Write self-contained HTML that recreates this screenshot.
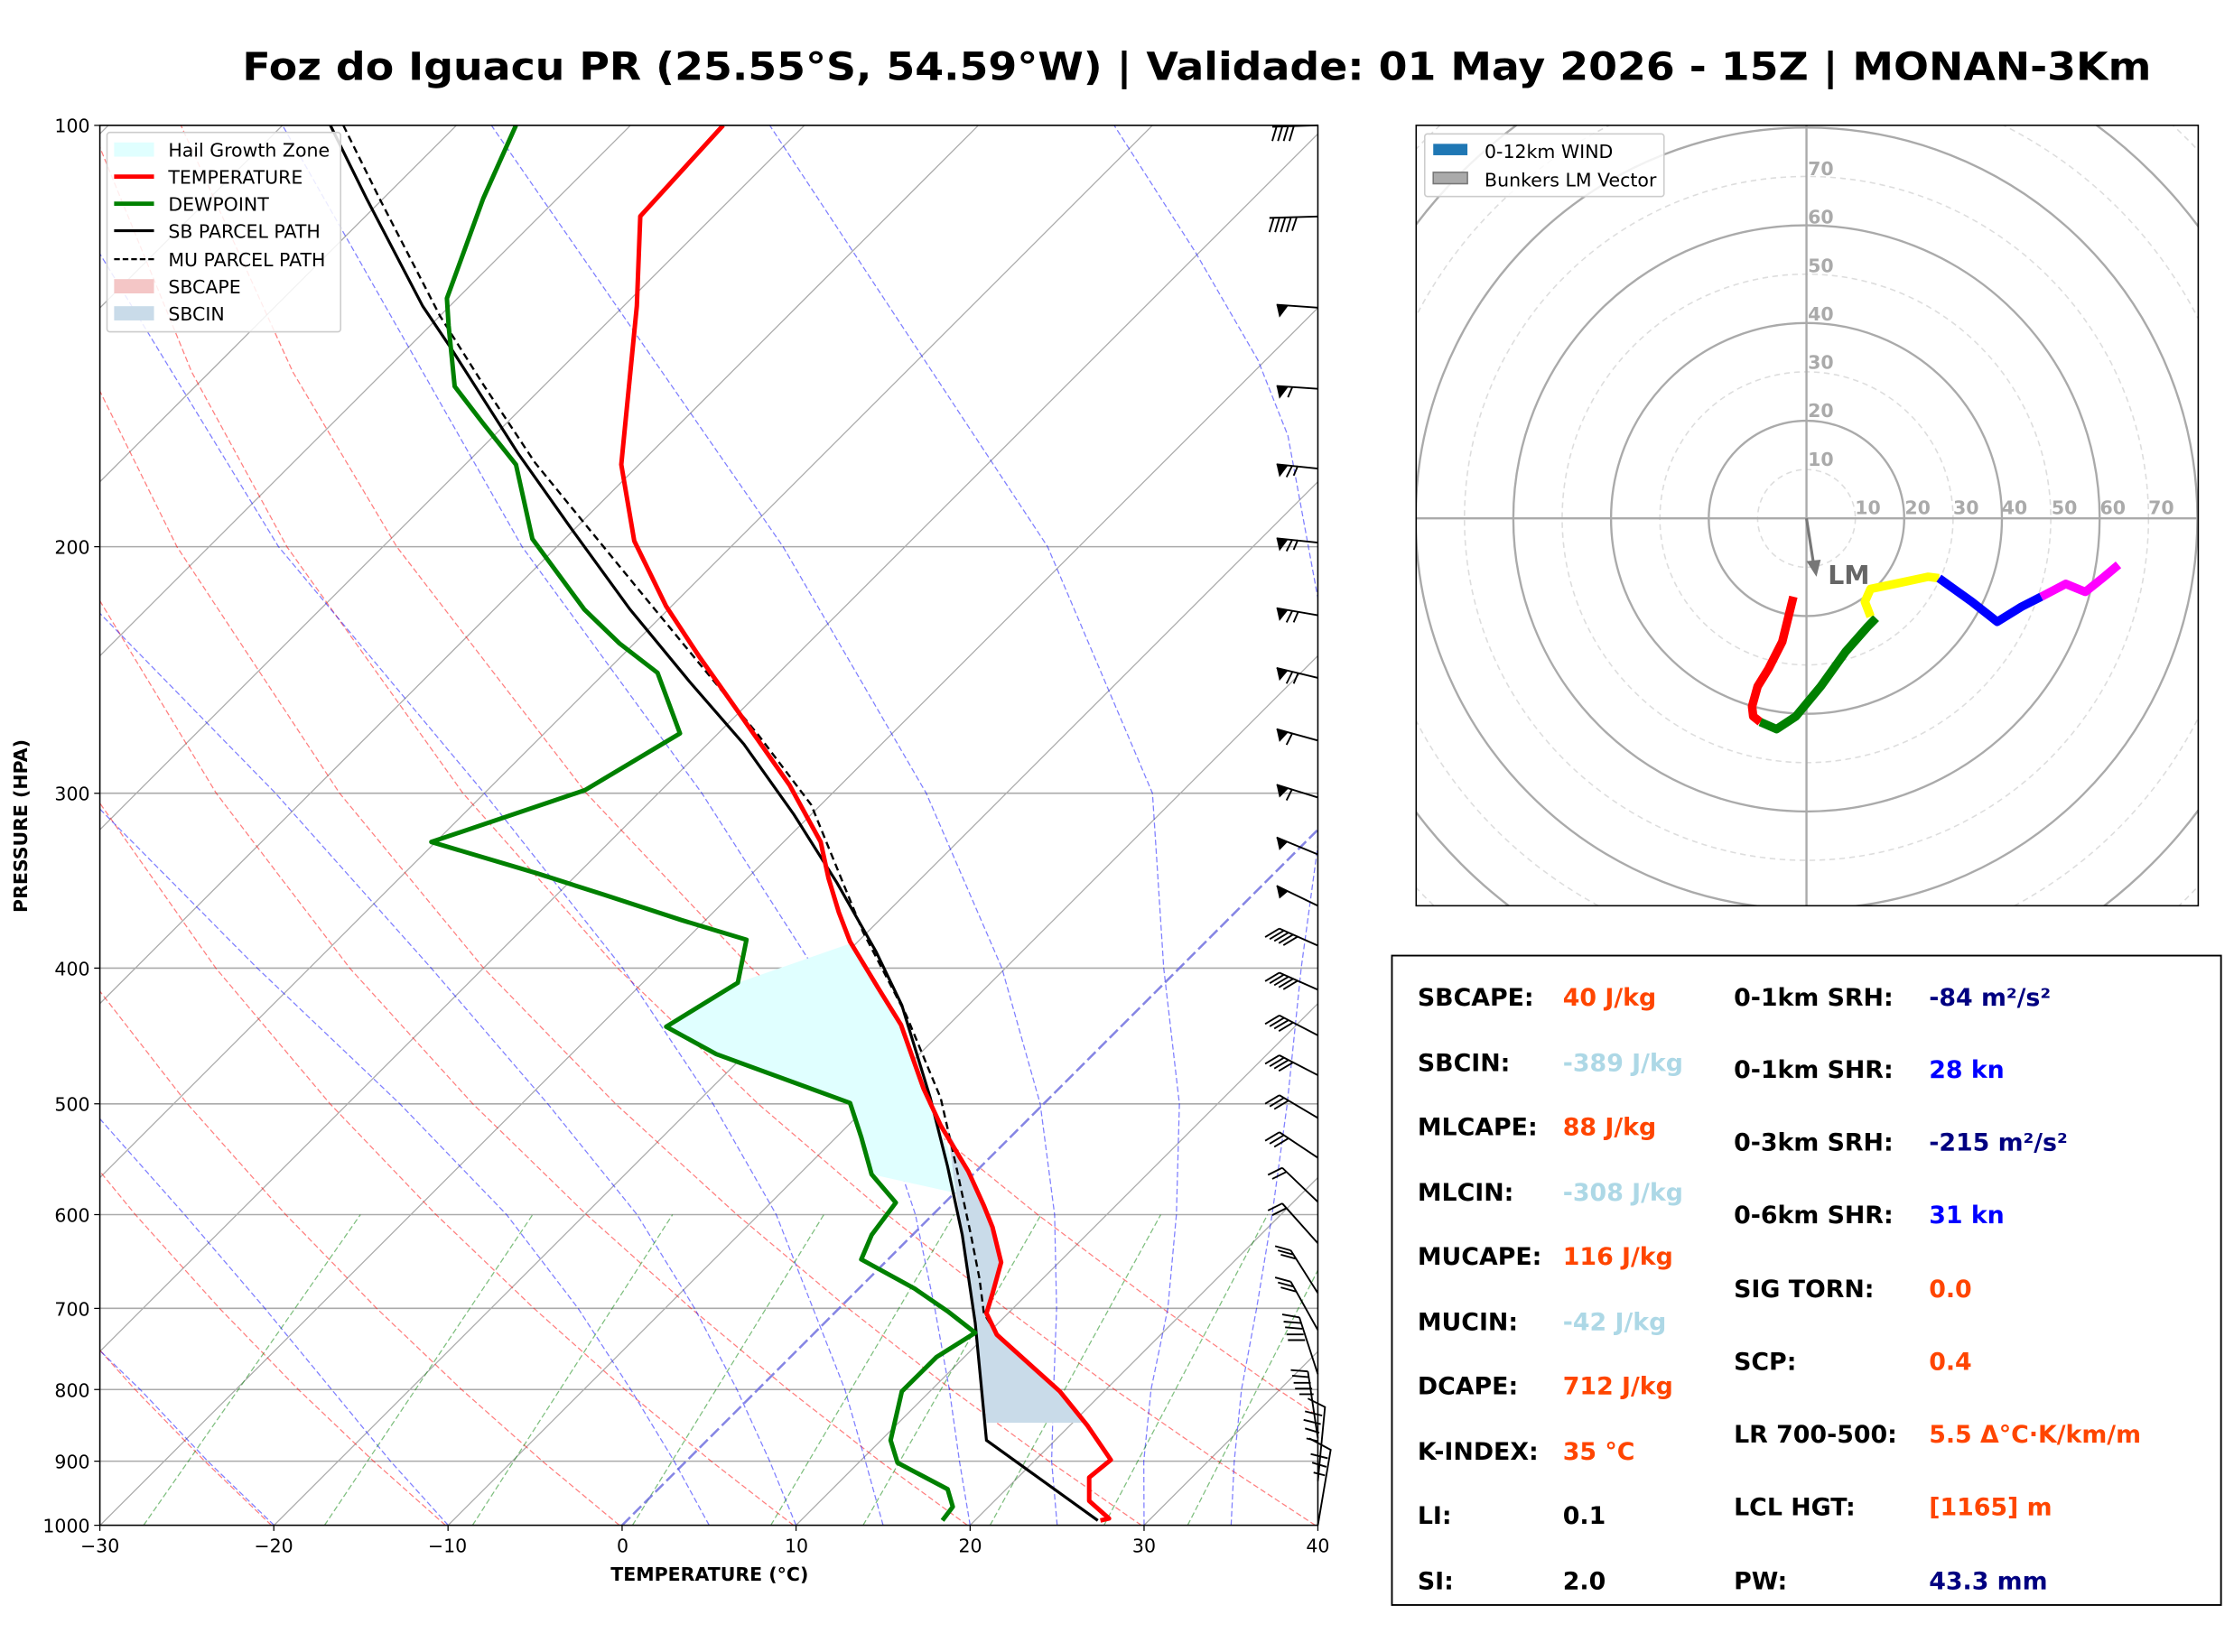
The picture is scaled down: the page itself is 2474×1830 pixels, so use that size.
<!DOCTYPE html>
<html><head><meta charset="utf-8">
<style>
html,body{margin:0;padding:0;background:#fff;}
svg{display:block;}
text{font-family:"DejaVu Sans","Liberation Sans",sans-serif;}
</style></head>
<body>
<svg width="2474" height="1830" viewBox="0 0 1568 1160" xmlns="http://www.w3.org/2000/svg">
<defs>
<clipPath id="cp"><rect x="70" y="88" width="855" height="983"/></clipPath>
<clipPath id="ch"><rect x="994" y="88" width="549" height="548"/></clipPath>
</defs>
<rect width="1568" height="1160" fill="#fff"/>
<text x="840" y="56" text-anchor="middle" font-size="27" font-weight="bold" textLength="1340" lengthAdjust="spacingAndGlyphs">Foz do Iguacu PR (25.55°S, 54.59°W) | Validade: 01 May 2026 - 15Z | MONAN-3Km</text>

<g clip-path="url(#cp)">
<g stroke="#aaa" stroke-width="1">
<line x1="70" x2="925" y1="88" y2="88"/><line x1="70" x2="925" y1="383.9" y2="383.9"/><line x1="70" x2="925" y1="557" y2="557"/><line x1="70" x2="925" y1="679.8" y2="679.8"/><line x1="70" x2="925" y1="775.1" y2="775.1"/><line x1="70" x2="925" y1="852.9" y2="852.9"/><line x1="70" x2="925" y1="918.7" y2="918.7"/><line x1="70" x2="925" y1="975.7" y2="975.7"/><line x1="70" x2="925" y1="1026" y2="1026"/>
</g>
<g stroke="#aaa" stroke-width="0.8">
<line x1="-1029.1" y1="1071" x2="-46.1" y2="88"/><line x1="-907" y1="1071" x2="76" y2="88"/><line x1="-784.8" y1="1071" x2="198.2" y2="88"/><line x1="-662.7" y1="1071" x2="320.3" y2="88"/><line x1="-540.5" y1="1071" x2="442.5" y2="88"/><line x1="-418.4" y1="1071" x2="564.6" y2="88"/><line x1="-296.3" y1="1071" x2="686.7" y2="88"/><line x1="-174.1" y1="1071" x2="808.9" y2="88"/><line x1="-52" y1="1071" x2="931" y2="88"/><line x1="70.2" y1="1071" x2="1053.2" y2="88"/><line x1="192.3" y1="1071" x2="1175.3" y2="88"/><line x1="314.5" y1="1071" x2="1297.5" y2="88"/><line x1="558.7" y1="1071" x2="1541.7" y2="88"/><line x1="680.9" y1="1071" x2="1663.9" y2="88"/><line x1="803" y1="1071" x2="1786" y2="88"/>
</g>
<g fill="none" stroke="#ff0000" stroke-opacity="0.5" stroke-width="0.8" stroke-dasharray="4,2">
<polyline points="68.3,1071 25.1,1026 -19.9,975.7"/>
<polyline points="190.4,1071 143.6,1026 94.7,975.7 43.7,918.7 -10.7,852.9"/>
<polyline points="312.6,1071 262.1,1026 209.3,975.7 154,918.7 94.9,852.9 31.2,775.1"/>
<polyline points="434.7,1071 380.6,1026 323.9,975.7 264.3,918.7 200.5,852.9 131.4,775.1 57.4,679.8"/>
<polyline points="556.9,1071 499.1,1026 438.5,975.7 374.7,918.7 306,852.9 231.6,775.1 151.4,679.8 65.1,557"/>
<polyline points="679,1071 617.6,1026 553.1,975.7 485,918.7 411.6,852.9 331.8,775.1 245.4,679.8 151.7,557 47,383.9"/>
<polyline points="801.1,1071 736.2,1026 667.7,975.7 595.3,918.7 517.2,852.9 432,775.1 339.4,679.8 238.3,557 124.1,383.9 63.3,261.1"/>
<polyline points="923.2,1071 854.7,1026 782.3,975.7 705.6,918.7 622.7,852.9 532.1,775.1 433.4,679.8 324.9,557 201.3,383.9 134.4,261.1 63.7,88"/>
<polyline points="1045,1071 973.2,1026 896.9,975.7 815.9,918.7 728.3,852.9 632.3,775.1 527.4,679.8 411.5,557 278.4,383.9 205.4,261.1 126.9,88"/>
</g>
<g fill="none" stroke="#0000ff" stroke-opacity="0.5" stroke-width="0.8" stroke-dasharray="4,2">
<polyline points="864.1,1071 866.3,1026 871.4,975.7 882,918.7 892.9,852.9 903.5,775.1 913.3,679.8 930,557 925,420 904,306 883,253 839,177 782,88"/>
<polyline points="803,1071 802.8,1026 807.9,975.7 819.7,918.7 825.7,852.9 827.8,775.1 816.8,679.8 808.9,557 735.3,383.9 540.2,88"/>
<polyline points="742,1071 738.1,1026 739.5,975.7 741.6,918.7 740.2,852.9 730.1,775.1 703.2,679.8 650.1,557 549.6,383.9 344.8,88"/>
<polyline points="680.9,1071 673.4,1026 666.3,975.7 656.1,918.7 642.5,852.9 616.5,775.1 571.3,679.8 492.6,557 366.4,383.9 198.2,88"/>
<polyline points="619.8,1071 607.4,1026 593,975.7 570.6,918.7 544.8,852.9 500.4,775.1 437,679.8 339.9,557 195.4,383.9 15,88"/>
<polyline points="558.7,1071 540.2,1026 517.2,975.7 487.5,918.7 447.1,852.9 384.4,775.1 302.6,679.8 193.3,557 24.4,383.9"/>
<polyline points="497.7,1071 473.1,1026 442.7,975.7 405.7,918.7 355.5,852.9 280.6,775.1 180.5,679.8 59,557"/>
<polyline points="314.5,1071 274,1026 232.7,975.7 185.8,918.7 129.5,852.9 60.7,775.1"/>
<polyline points="192.3,1071 145.7,1026 98.3,975.7 39.3,918.7"/>
</g>
<g stroke="#008000" stroke-opacity="0.5" stroke-width="0.8" stroke-dasharray="4,2">
<line x1="100.7" y1="1071" x2="252.9" y2="852.9"/><line x1="227.7" y1="1071" x2="373.8" y2="852.9"/><line x1="331.6" y1="1071" x2="472" y2="852.9"/><line x1="443.9" y1="1071" x2="578.2" y2="852.9"/><line x1="541" y1="1071" x2="669.7" y2="852.9"/><line x1="605.8" y1="1071" x2="730.7" y2="852.9"/><line x1="694.9" y1="1071" x2="814.7" y2="852.9"/><line x1="774.9" y1="1071" x2="889.7" y2="852.9"/><line x1="833.6" y1="1071" x2="944.9" y2="852.9"/>
</g>
<line x1="436.6" y1="1071" x2="1419.6" y2="88" stroke="#6666dd" stroke-width="1.6" stroke-dasharray="8,3" stroke-opacity="0.8"/>

<g transform="translate(-0.3,63.97) scale(0.606,0.6865)">
<polygon fill="#e0ffff" points="855,912 985,872 1022,920 1045,955 1075,1035 1098,1080 1112,1128 1010,1108 998,1070 985,1035 830,985 772,957"/>
<polygon fill="#c9dbe9" points="1098,1062 1122,1105 1140,1140 1150,1162 1160,1198 1150,1230 1143,1250 1155,1272 1228,1330 1258,1362 1143,1362 1130,1260 1115,1170 1105,1110"/>
<polyline fill="none" stroke="#000" stroke-width="2.4" stroke-dasharray="8,5" vector-effect="non-scaling-stroke" points="398,35 440,110 510,230 560,300 620,380 680,445 742,512 810,585 880,660 940,730 1000,860 1050,945 1090,1030 1108,1100 1125,1170 1135,1215 1140,1250 1155,1272"/>
<polyline fill="none" stroke="#000" stroke-width="3.2" vector-effect="non-scaling-stroke" points="383,35 425,110 490,220 522,262 600,370 660,445 730,530 800,605 862,668 920,740 970,810 1015,880 1045,935 1078,1030 1098,1100 1115,1170 1130,1260 1143,1380 1272,1462"/>
<polyline fill="none" stroke="#ff0000" stroke-width="5" stroke-linejoin="round" vector-effect="non-scaling-stroke" points="838,35 742,128 738,220 720,382 735,460 772,527 810,578 858,638 915,710 951,768 960,805 972,840 985,870 1018,918 1044,955 1070,1020 1090,1058 1122,1105 1140,1140 1150,1162 1160,1198 1150,1230 1143,1250 1155,1272 1228,1330 1260,1365 1287,1400 1262,1418 1262,1442 1285,1460 1275,1462"/>
<polyline fill="none" stroke="#008000" stroke-width="5" stroke-linejoin="round" vector-effect="non-scaling-stroke" points="598,35 560,110 518,212 520,240 527,302 560,340 598,382 617,458 677,530 718,565 762,595 788,657 678,715 500,768 622,800 700,822 790,848 865,868 855,912 772,957 830,985 985,1035 998,1070 1010,1108 1038,1137 1010,1170 998,1195 1060,1225 1098,1248 1130,1270 1085,1295 1045,1330 1032,1380 1040,1403 1098,1430 1104,1448 1092,1462"/>
</g>
</g>

<g stroke="#000" stroke-width="1.2" fill="none">
<path d="M925 88 L893 89 M896 89 l-3 10 M900 89 l-3 10 M904 89 l-3 10 M908 89 l-3 10"/>
<path d="M925 152 L891 153 M894 153 l-3 10 M898 153 l-3 10 M902 153 l-3 10 M906 153 l-3 10 M910 153 l-3 9"/>
<path d="M925 216 L896 214"/>
<path d="M925 273 L896 271 M907 272 l-3 7"/>
<path d="M925 329 L896 326 M907 327 l-4 8 M911 327 l-3 7"/>
<path d="M925 381 L896 378 M907 379 l-4 8 M911 379 l-3 7"/>
<path d="M925 432 L896 427 M907 429 l-4 8 M911 430 l-3 7"/>
<path d="M925 476 L896 469 M907 472 l-4 8 M911 473 l-3 7"/>
<path d="M925 520 L896 512 M907 515 l-4 8"/>
<path d="M925 560 L896 551 M907 554 l-4 8"/>
<path d="M925 600 L896 588"/>
<path d="M925 636 L896 622"/>
<path d="M925 664 L898 652 M898 652 l-10 6 M901.2 653.4 l-10 6 M904.4 654.8 l-10 6 M907.6 656.3 l-10 6 M910.8 657.7 l-10 6"/>
<path d="M925 695 L898 683 M898 683 l-10 6 M901.2 684.4 l-10 6 M904.4 685.8 l-10 6 M907.6 687.3 l-10 6 M910.8 688.7 l-10 6"/>
<path d="M925 727 L898 713 M898 713 l-10 6 M901.2 714.7 l-10 6 M904.4 716.3 l-10 6 M907.6 718 l-10 6"/>
<path d="M925 755 L898 741 M898 741 l-10 6 M901.2 742.7 l-10 6 M904.4 744.3 l-10 6 M907.6 746 l-10 6"/>
<path d="M925 785 L898 769 M898 769 l-10 6 M901.2 770.9 l-10 6 M904.4 772.8 l-10 6"/>
<path d="M925 813 L898 795 M898 795 l-10 6 M901.2 797.1 l-10 6 M904.4 799.3 l-10 6"/>
<path d="M925 844 L900 820 M900 820 l-10 5 M903 822.8 l-10 5"/>
<path d="M925 873 L900 845 M900 845 l-10 5 M903 848.3 l-10 5"/>
<path d="M925 908 L906 878 M906 878 l-11 -3 M908 881 l-11 -3 M910 884 l-11 -3"/>
<path d="M925 934 L906 900 M906 900 l-11 -3 M908 903.5 l-11 -3 M910 907 l-11 -3"/>
<path d="M925 965 L912 925 M912 925 l-12 -2 M913 929 l-12 -1 M914 933 l-12 -1 M915 937 l-12 0 M916 941 l-12 0"/>
<path d="M925 1010 L918 963 M918 963 l-12 -1 M919 967 l-12 -1 M920 971 l-12 0 M921 975 l-12 0 M922 979 l-10 0"/>
<path d="M925 1040 L930 988 L918 982 M928 994 l-12 -3 M927 1000 l-12 -3 M926 1006 l-10 -3 M925 1012 l-8 -2"/>
<path d="M925 1071 L934 1018 L919 1010 M932 1024 l-12 -3 M931 1030 l-10 -3 M930 1036 l-8 -2"/>
</g>
<g fill="#000">
<polygon points="896,214 904,215 898,223"/>
<polygon points="896,271 904,272 898,280"/>
<polygon points="896,326 904,327 898,335"/>
<polygon points="896,378 904,379 898,387"/>
<polygon points="896,427 904,428.5 898,436"/>
<polygon points="896,469 904,471 898,478"/>
<polygon points="896,512 904,514.5 898,521"/>
<polygon points="896,551 904,554 898,560"/>
<polygon points="896,588 904,591 898,597"/>
<polygon points="896,622 904,626 898,631"/>
</g>
<rect x="70" y="88" width="855" height="983" fill="none" stroke="#000" stroke-width="1"/>
<g stroke="#000" stroke-width="0.8">
<path d="M66 88H70M66 383.9H70M66 557H70M66 679.8H70M66 775.1H70M66 852.9H70M66 918.7H70M66 975.7H70M66 1026H70M66 1071H70"/>
<path d="M70 1071V1075M192.1 1071V1075M314.4 1071V1075M436.6 1071V1075M558.7 1071V1075M680.9 1071V1075M803 1071V1075M925 1071V1075"/>
</g>

<g font-size="13" text-anchor="end">
<text x="63" y="93">100</text><text x="63" y="389">200</text><text x="63" y="562">300</text><text x="63" y="685">400</text><text x="63" y="780">500</text><text x="63" y="858">600</text><text x="63" y="924">700</text><text x="63" y="981">800</text><text x="63" y="1031">900</text><text x="63" y="1076">1000</text>
</g>
<g font-size="13" text-anchor="middle">
<text x="70" y="1090">−30</text><text x="192" y="1090">−20</text><text x="314" y="1090">−10</text><text x="437" y="1090">0</text><text x="559" y="1090">10</text><text x="681" y="1090">20</text><text x="803" y="1090">30</text><text x="925" y="1090">40</text>
</g>
<text x="498" y="1110" font-size="13" font-weight="bold" text-anchor="middle">TEMPERATURE (°C)</text>
<text transform="translate(19,580) rotate(-90)" font-size="13" font-weight="bold" text-anchor="middle">PRESSURE (HPA)</text>

<g font-size="13">
<rect x="75" y="93" width="164" height="140" rx="2" fill="#fff" fill-opacity="0.85" stroke="#ccc"/>
<rect x="80" y="100" width="28" height="10" fill="#e0ffff"/><text x="118" y="110">Hail Growth Zone</text>
<line x1="80" y1="124" x2="108" y2="124" stroke="#f00" stroke-width="3"/><text x="118" y="129">TEMPERATURE</text>
<line x1="80" y1="143" x2="108" y2="143" stroke="#008000" stroke-width="3"/><text x="118" y="148">DEWPOINT</text>
<line x1="80" y1="162" x2="108" y2="162" stroke="#000" stroke-width="2"/><text x="118" y="167">SB PARCEL PATH</text>
<line x1="80" y1="182" x2="108" y2="182" stroke="#000" stroke-width="1.5" stroke-dasharray="4,2"/><text x="118" y="187">MU PARCEL PATH</text>
<rect x="80" y="196" width="28" height="10" fill="#f4c6c6"/><text x="118" y="206">SBCAPE</text>
<rect x="80" y="215" width="28" height="10" fill="#c9dbe9"/><text x="118" y="225">SBCIN</text>
</g>

<g clip-path="url(#ch)">
<g fill="none">
<circle cx="1268" cy="364" r="34.3" stroke="#ddd" stroke-dasharray="4,3"/>
<circle cx="1268" cy="364" r="68.6" stroke="#aaa" stroke-width="1.5"/>
<circle cx="1268" cy="364" r="102.9" stroke="#ddd" stroke-dasharray="4,3"/>
<circle cx="1268" cy="364" r="137.2" stroke="#aaa" stroke-width="1.5"/>
<circle cx="1268" cy="364" r="171.5" stroke="#ddd" stroke-dasharray="4,3"/>
<circle cx="1268" cy="364" r="205.8" stroke="#aaa" stroke-width="1.5"/>
<circle cx="1268" cy="364" r="240.1" stroke="#ddd" stroke-dasharray="4,3"/>
<circle cx="1268" cy="364" r="274.4" stroke="#aaa" stroke-width="1.5"/>
<circle cx="1268" cy="364" r="308.7" stroke="#ddd" stroke-dasharray="4,3"/>
<circle cx="1268" cy="364" r="343" stroke="#aaa" stroke-width="1.5"/>
<circle cx="1268" cy="364" r="377.3" stroke="#ddd" stroke-dasharray="4,3"/>
</g>
<line x1="1268" y1="88" x2="1268" y2="636" stroke="#aaa" stroke-width="1.5"/>
<line x1="994" y1="364" x2="1543" y2="364" stroke="#aaa" stroke-width="1.5"/>
<g stroke-width="6" fill="none" stroke-linejoin="round">
<polyline stroke="#ff0000" points="1258.8,419 1251,450.6 1241.4,469.5 1233.7,482 1229.8,496 1230.6,503 1235.6,507"/>
<polyline stroke="#008000" points="1235.6,507 1247,512 1260.6,503 1278,482 1295.5,457.6 1311,440 1316.8,434"/>
<polyline stroke="#ffff00" points="1313,433 1309,422.5 1313,413.5 1330,410 1353.5,405 1361,406"/>
<polyline stroke="#0000ff" points="1361,406 1384,422.5 1401.9,436.6 1419,426 1432.8,419"/>
<polyline stroke="#ff00ff" points="1432.8,419 1450,410 1463.7,415.6 1477,405 1487,396.6"/>
</g>
<line x1="1268" y1="364" x2="1273" y2="396" stroke="#777" stroke-width="2"/>
<polygon points="1268,394 1278,393 1275,405" fill="#777"/>
<text x="1283" y="410" font-size="18" font-weight="bold" fill="#666">LM</text>
</g>
<g font-size="13" font-weight="bold" fill="#aaa">
<text x="1302" y="361">10</text><text x="1337" y="361">20</text><text x="1371" y="361">30</text><text x="1405" y="361">40</text><text x="1440" y="361">50</text><text x="1474" y="361">60</text><text x="1508" y="361">70</text>
<text x="1269" y="327">10</text><text x="1269" y="293">20</text><text x="1269" y="259">30</text><text x="1269" y="225">40</text><text x="1269" y="191">50</text><text x="1269" y="157">60</text><text x="1269" y="123">70</text>
</g>
<rect x="994" y="88" width="549" height="548" fill="none" stroke="#000" stroke-width="1"/>
<g font-size="13">
<rect x="1000" y="94" width="168" height="44" rx="2" fill="#fff" fill-opacity="0.85" stroke="#ccc"/>
<rect x="1006" y="101" width="24" height="8" fill="#1f77b4"/><text x="1042" y="111">0-12km WIND</text>
<rect x="1006" y="121" width="24" height="8" fill="#aaa" stroke="#777"/><text x="1042" y="131">Bunkers LM Vector</text>
</g>

<rect x="977" y="671" width="582" height="456" fill="#fff" stroke="#000" stroke-width="1.2"/>
<g font-size="17" font-weight="bold">
<text x="995" y="706">SBCAPE:</text><text x="1097" y="706" fill="#ff4500">40 J/kg</text>
<text x="995" y="752">SBCIN:</text><text x="1097" y="752" fill="#add8e6">-389 J/kg</text>
<text x="995" y="797">MLCAPE:</text><text x="1097" y="797" fill="#ff4500">88 J/kg</text>
<text x="995" y="843">MLCIN:</text><text x="1097" y="843" fill="#add8e6">-308 J/kg</text>
<text x="995" y="888">MUCAPE:</text><text x="1097" y="888" fill="#ff4500">116 J/kg</text>
<text x="995" y="934">MUCIN:</text><text x="1097" y="934" fill="#add8e6">-42 J/kg</text>
<text x="995" y="979">DCAPE:</text><text x="1097" y="979" fill="#ff4500">712 J/kg</text>
<text x="995" y="1025">K-INDEX:</text><text x="1097" y="1025" fill="#ff4500">35 °C</text>
<text x="995" y="1070">LI:</text><text x="1097" y="1070">0.1</text>
<text x="995" y="1116">SI:</text><text x="1097" y="1116">2.0</text>
<text x="1217" y="706">0-1km SRH:</text><text x="1354" y="706" fill="#000080">-84 m²/s²</text>
<text x="1217" y="757">0-1km SHR:</text><text x="1354" y="757" fill="#0000ff">28 kn</text>
<text x="1217" y="808">0-3km SRH:</text><text x="1354" y="808" fill="#000080">-215 m²/s²</text>
<text x="1217" y="859">0-6km SHR:</text><text x="1354" y="859" fill="#0000ff">31 kn</text>
<text x="1217" y="911">SIG TORN:</text><text x="1354" y="911" fill="#ff4500">0.0</text>
<text x="1217" y="962">SCP:</text><text x="1354" y="962" fill="#ff4500">0.4</text>
<text x="1217" y="1013">LR 700-500:</text><text x="1354" y="1013" fill="#ff4500">5.5 Δ°C·K/km/m</text>
<text x="1217" y="1064">LCL HGT:</text><text x="1354" y="1064" fill="#ff4500">[1165] m</text>
<text x="1217" y="1116">PW:</text><text x="1354" y="1116" fill="#000080">43.3 mm</text>
</g>
</svg>
</body></html>
